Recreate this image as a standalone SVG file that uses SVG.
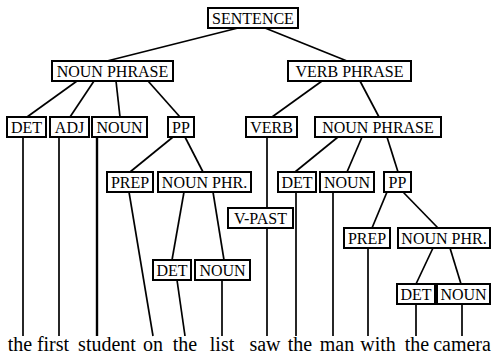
<svg xmlns="http://www.w3.org/2000/svg" width="492" height="355" viewBox="0 0 492 355">
<style>
.box{fill:#fff;stroke:#000;stroke-width:2}
#connectors line{stroke:#000;stroke-width:1.7;fill:none}
</style>
<rect width="492" height="355" fill="#fff"/>
<g id="connectors">
<line x1="238" y1="28" x2="107" y2="61"/>
<line x1="265" y1="28" x2="347" y2="61"/>
<line x1="77" y1="81" x2="27" y2="117"/>
<line x1="94" y1="81" x2="70" y2="117"/>
<line x1="116" y1="81" x2="120" y2="117"/>
<line x1="148" y1="81" x2="180" y2="117"/>
<line x1="322" y1="81" x2="272" y2="117"/>
<line x1="360" y1="81" x2="379" y2="117"/>
<line x1="173" y1="137" x2="130" y2="172"/>
<line x1="185" y1="137" x2="203" y2="172"/>
<line x1="338" y1="137" x2="295" y2="172"/>
<line x1="362" y1="137" x2="347" y2="172"/>
<line x1="387" y1="137" x2="398" y2="172"/>
<line x1="267" y1="137" x2="267" y2="208"/>
<line x1="267" y1="228" x2="267" y2="336"/>
<line x1="23" y1="137" x2="23" y2="336"/>
<line x1="59" y1="137" x2="59" y2="336"/>
<line x1="97" y1="137" x2="97" y2="336" style="stroke-width:2.4"/>
<line x1="129" y1="192" x2="153" y2="336"/>
<line x1="184" y1="192" x2="172" y2="260"/>
<line x1="213" y1="192" x2="224" y2="260"/>
<line x1="177" y1="280" x2="185" y2="336"/>
<line x1="222" y1="280" x2="222" y2="336"/>
<line x1="296" y1="192" x2="296" y2="336"/>
<line x1="333" y1="192" x2="333" y2="336"/>
<line x1="387" y1="192" x2="372" y2="228"/>
<line x1="403" y1="192" x2="438" y2="228"/>
<line x1="368" y1="248" x2="368" y2="336"/>
<line x1="433" y1="248" x2="416" y2="284"/>
<line x1="450" y1="248" x2="461" y2="284"/>
<line x1="416" y1="304" x2="416" y2="336"/>
<line x1="462" y1="304" x2="462" y2="336"/>
</g>
<g font-family="Liberation Serif, serif" font-size="16" text-anchor="middle" fill="#000">
<g id="sentence"><rect class="box" x="208" y="8" width="90" height="20"/><text x="253" y="24">SENTENCE</text></g>
<g id="np1"><rect class="box" x="52" y="61" width="121" height="20"/><text x="112.5" y="77">NOUN PHRASE</text></g>
<g id="vp"><rect class="box" x="288" y="61" width="123" height="20"/><text x="349.5" y="77">VERB PHRASE</text></g>
<g id="det1"><rect class="box" x="7" y="117" width="39" height="20"/><text x="26.5" y="133">DET</text></g>
<g id="adj"><rect class="box" x="50" y="117" width="39" height="20"/><text x="69.5" y="133">ADJ</text></g>
<g id="noun1"><rect class="box" x="92" y="117" width="55" height="20"/><text x="119.5" y="133">NOUN</text></g>
<g id="pp1"><rect class="box" x="168" y="117" width="26" height="20"/><text x="181" y="133">PP</text></g>
<g id="verb"><rect class="box" x="246" y="117" width="51" height="20"/><text x="271.5" y="133">VERB</text></g>
<g id="np2"><rect class="box" x="315" y="117" width="126" height="20"/><text x="378" y="133">NOUN PHRASE</text></g>
<g id="prep1"><rect class="box" x="107" y="172" width="46" height="20"/><text x="130" y="188">PREP</text></g>
<g id="nphr1"><rect class="box" x="158" y="172" width="93" height="20"/><text x="204.5" y="188">NOUN PHR.</text></g>
<g id="vpast"><rect class="box" x="228" y="208" width="65" height="20"/><text x="260.5" y="224">V-PAST</text></g>
<g id="det2"><rect class="box" x="278" y="172" width="38" height="20"/><text x="297" y="188">DET</text></g>
<g id="noun2"><rect class="box" x="320" y="172" width="54" height="20"/><text x="347" y="188">NOUN</text></g>
<g id="pp2"><rect class="box" x="384" y="172" width="27" height="20"/><text x="397.5" y="188">PP</text></g>
<g id="prep2"><rect class="box" x="344" y="228" width="46" height="20"/><text x="367" y="244">PREP</text></g>
<g id="nphr2"><rect class="box" x="398" y="228" width="92" height="20"/><text x="444" y="244">NOUN PHR.</text></g>
<g id="det3"><rect class="box" x="153" y="260" width="38" height="20"/><text x="172" y="276">DET</text></g>
<g id="noun3"><rect class="box" x="195" y="260" width="55" height="20"/><text x="222.5" y="276">NOUN</text></g>
<g id="det4"><rect class="box" x="397" y="284" width="38" height="20"/><text x="416" y="300">DET</text></g>
<g id="noun4"><rect class="box" x="437" y="284" width="53" height="20"/><text x="463.5" y="300">NOUN</text></g>
</g>
<g id="words" font-family="Liberation Serif, serif" font-size="20" text-anchor="middle" fill="#000">
<text x="20" y="351">the</text>
<text x="53" y="351">first</text>
<text x="107" y="351">student</text>
<text x="153" y="351">on</text>
<text x="185" y="351">the</text>
<text x="222" y="351">list</text>
<text x="265" y="351">saw</text>
<text x="300" y="351">the</text>
<text x="337" y="351">man</text>
<text x="378" y="351">with</text>
<text x="417" y="351">the</text>
<text x="462" y="351">camera</text>
</g>
</svg>
